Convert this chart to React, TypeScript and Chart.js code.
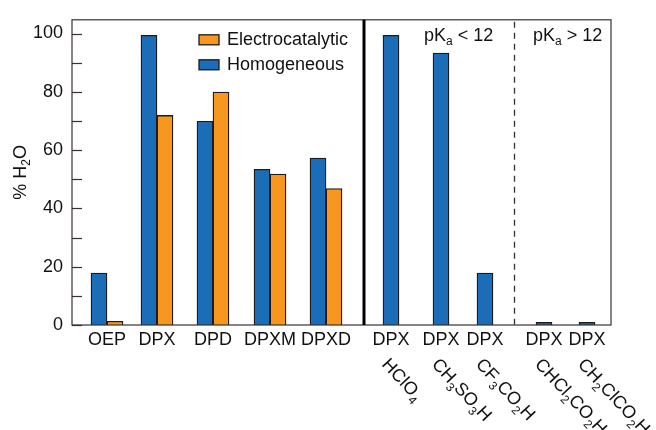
import React, { useEffect, useRef } from "react";
import { Chart, registerables } from "chart.js";

Chart.register(...registerables);

// ---- data ----
const categories = ["OEP", "DPX", "DPD", "DPXM", "DPXD", "DPX", "DPX", "DPX", "DPX", "DPX"];
const acids = ["", "", "", "", "", "HClO_4", "CH_3SO_3H", "CF_3CO_2H", "CHCl_2CO_2H", "CH_2ClCO_2H"];
const homogeneous = [17.8, 99.4, 69.9, 53.4, 57.3, 99.4, 93.3, 17.8, 0.9, 0.9];
const electrocatalytic: (number | null)[] = [1.3, 71.9, 79.9, 51.8, 46.8, null, null, null, null, null];
const seriesNames = ["Homogeneous", "Electrocatalytic"];
const yTickStep = 20;
const yMinorStep = 10;
const groupLabels = ["pK_a < 12", "pK_a > 12"];

// ---- layout (axis units along x) ----
const categoryX = [35, 85, 141, 198, 254, 319, 369, 413, 472, 515];
const xMax = 539;
const solidDividerX = 292;
const dashedDividerX = 442;
const groupLabelX = [352, 461];
const yMax = 104.7;

const BLUE = "#1b6db8";
const ORANGE = "#f7971f";
const EDGE = "#1e1a1a";
const FONT = "'Liberation Sans', Arial, Helvetica, sans-serif";
const FS = 18;
const SUB = 12;

type Seg = { t: string; sub: boolean };
function parseRich(s: string): Seg[] {
  const out: Seg[] = [];
  let buf = "";
  for (let i = 0; i < s.length; i++) {
    if (s[i] === "_" && i + 1 < s.length) {
      if (buf) out.push({ t: buf, sub: false });
      buf = "";
      out.push({ t: s[i + 1], sub: true });
      i++;
    } else buf += s[i];
  }
  if (buf) out.push({ t: buf, sub: false });
  return out;
}
function richWidth(ctx: CanvasRenderingContext2D, segs: Seg[]) {
  let w = 0;
  for (const g of segs) {
    ctx.font = `${g.sub ? SUB : FS}px ${FONT}`;
    w += ctx.measureText(g.t).width;
  }
  return w;
}
function drawRich(ctx: CanvasRenderingContext2D, segs: Seg[], x: number, y: number, subOff = 5) {
  let cx = x;
  for (const g of segs) {
    ctx.font = `${g.sub ? SUB : FS}px ${FONT}`;
    ctx.fillText(g.t, cx, g.sub ? y + subOff : y);
    cx += ctx.measureText(g.t).width;
  }
}

const decorPlugin = {
  id: "decor",
  afterDraw(chart: any) {
    const ctx: CanvasRenderingContext2D = chart.ctx;
    const { left, right, top, bottom } = chart.chartArea;
    const xs = chart.scales.x;
    const ys = chart.scales.y;
    ctx.save();
    // frame
    ctx.strokeStyle = "#3a3030";
    ctx.lineWidth = 1.2;
    ctx.strokeRect(left, top, right - left, bottom - top);
    // inward y ticks
    for (let v = 0; v <= 100; v += yMinorStep) {
      const py = Math.round(ys.getPixelForValue(v)) + 0.5;
      ctx.beginPath();
      ctx.moveTo(left, py);
      ctx.lineTo(left + 10, py);
      ctx.stroke();
    }
    // solid divider
    const sx = xs.getPixelForValue(solidDividerX);
    ctx.strokeStyle = "#000";
    ctx.lineWidth = 3;
    ctx.beginPath();
    ctx.moveTo(sx, top);
    ctx.lineTo(sx, bottom);
    ctx.stroke();
    // dashed divider
    const dx = Math.round(xs.getPixelForValue(dashedDividerX)) + 0.5;
    ctx.strokeStyle = "#333";
    ctx.lineWidth = 1.3;
    ctx.setLineDash([6, 5]);
    ctx.beginPath();
    ctx.moveTo(dx, top + 2);
    ctx.lineTo(dx, bottom);
    ctx.stroke();
    ctx.setLineDash([]);

    ctx.fillStyle = "#111";
    ctx.textBaseline = "alphabetic";
    ctx.textAlign = "left";
    // group labels
    groupLabels.forEach((lbl, i) => {
      drawRich(ctx, parseRich(lbl), xs.getPixelForValue(groupLabelX[i]), top + 21, 4);
    });

    // legend (reverse order: Electrocatalytic first)
    const ds = chart.data.datasets;
    const order = [1, 0];
    order.forEach((di, row) => {
      const bx = left + 127;
      const by = top + 15 + row * 25;
      ctx.fillStyle = ds[di].backgroundColor;
      ctx.fillRect(bx, by, 20, 10);
      ctx.strokeStyle = EDGE;
      ctx.lineWidth = 1.3;
      ctx.strokeRect(bx, by, 20, 10);
      ctx.fillStyle = "#111";
      ctx.font = `${FS}px ${FONT}`;
      ctx.textBaseline = "middle";
      ctx.fillText(ds[di].label, bx + 28, by + 5.5);
    });

    // y title
    ctx.textBaseline = "alphabetic";
    const tsegs = parseRich("% H_2O");
    const tw = richWidth(ctx, tsegs);
    ctx.save();
    ctx.translate(26, (top + bottom) / 2);
    ctx.rotate(-Math.PI / 2);
    drawRich(ctx, tsegs, -tw / 2, 0, 4);
    ctx.restore();

    // rotated acid labels
    acids.forEach((a, i) => {
      if (!a) return;
      const px = xs.getPixelForValue(categoryX[i]);
      ctx.save();
      ctx.translate(px - 10, 365);
      ctx.rotate((47 * Math.PI) / 180);
      drawRich(ctx, parseRich(a), 0, 0, 5);
      ctx.restore();
    });
    ctx.restore();
  },
};

export default function App() {
  const ref = useRef<HTMLCanvasElement>(null);
  useEffect(() => {
    if (!ref.current) return;
    const chart = new Chart(ref.current, {
      type: "bar",
      data: {
        datasets: [
          {
            label: seriesNames[0],
            data: categoryX.map((x, i) => ({ x, y: homogeneous[i] })),
            backgroundColor: BLUE,
            borderColor: EDGE,
            borderWidth: 1.3,
          },
          {
            label: seriesNames[1],
            data: categoryX.map((x, i) => ({ x, y: electrocatalytic[i] })),
            backgroundColor: ORANGE,
            borderColor: EDGE,
            borderWidth: 1.3,
          },
        ],
      } as any,
      options: {
        animation: false,
        responsive: false,
        skipNull: true,
        barThickness: 16,
        layout: { padding: { top: 12, right: 45, left: 0, bottom: 0 } },
        plugins: { legend: { display: false }, tooltip: { enabled: false } },
        scales: {
          x: {
            type: "linear",
            min: 0,
            max: xMax,
            offset: false,
            grid: { display: false, drawTicks: false },
            border: { display: false },
            afterBuildTicks: (s: any) => {
              s.ticks = categoryX.map((v) => ({ value: v }));
            },
            afterFit: (s: any) => {
              s.height = 105;
            },
            ticks: {
              autoSkip: false,
              maxRotation: 0,
              padding: 4,
              color: "#111",
              font: { family: FONT, size: FS },
              callback: (_v: any, i: number) => categories[i],
            },
          },
          y: {
            min: 0,
            max: yMax,
            grid: { display: false, drawTicks: false },
            border: { display: false },
            afterFit: (s: any) => {
              s.width = 72;
            },
            ticks: {
              stepSize: yTickStep,
              includeBounds: false,
              padding: 9,
              color: "#111",
              font: { family: FONT, size: FS },
            },
          },
        },
      } as any,
      plugins: [decorPlugin],
    });
    return () => chart.destroy();
  }, []);
  return (
    <div style={{ position: "absolute", left: 0, top: 0, width: 656, height: 430, background: "#fff" }}>
      <canvas ref={ref} width={656} height={430} />
    </div>
  );
}
